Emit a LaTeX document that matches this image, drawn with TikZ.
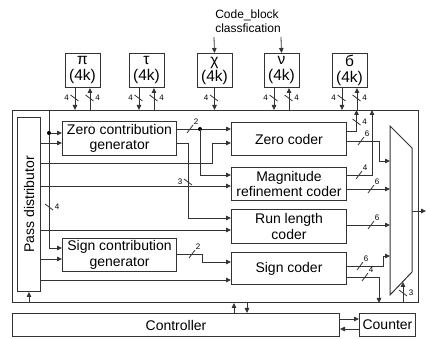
\documentclass[tikz,border=0pt]{standalone}
\usepackage{fontspec}
\setmainfont{Liberation Sans}
\usetikzlibrary{arrows.meta,calc}
\tikzset{
  wire/.style={draw=black!80, line width=0.8pt},
  arr/.style={wire, -{Triangle[length=5pt,width=4.5pt]}},
  box/.style={draw=black!80, line width=1pt, align=center, inner sep=0pt, anchor=north west,
    font=\fontsize{14}{15.5}\selectfont},
  mem/.style={box, minimum width=35pt, minimum height=34pt, font=\fontsize{15.5}{16}\selectfont},
  lbl/.style={font=\fontsize{8}{8}\selectfont, inner sep=0pt},
  tickline/.style={draw=black!80, line width=0.8pt},
  jdot/.style={circle, fill=black, inner sep=0pt, minimum size=4pt},
}
\newcommand\hmark[3]{\draw[tickline] (#1-3,#2+4) -- (#1+3,#2-4); \node[lbl] (h#1x#2) at (#1+6,#2-7) {#3};}
\newcommand\vmark[4]{\draw[tickline] (#1-4,#2-3) -- (#1+4,#2+3); \node[lbl] (v#1x#2) at (#1+#4,#2) {#3};}
\begin{document}
\begin{tikzpicture}[x=1pt,y=-1pt]
\useasboundingbox (0,0) rectangle (426,339);

% main frame and blocks
\node[box, minimum width=406pt, minimum height=192pt] (core) at (12,110) {};
\node[box, minimum width=23pt, minimum height=174pt] (pd) at (17,117) {};
\node[rotate=90, font=\fontsize{14}{15}\selectfont, inner sep=0pt] (pdt) at (pd.center) {Pass distributor};
\node[box, minimum width=114pt, minimum height=34pt] (zcg) at (62,121) {Zero contribution\\generator};
\node[box, minimum width=114pt, minimum height=33pt] (scg) at (62,238) {Sign contribution\\generator};
\node[box, minimum width=115pt, minimum height=33pt] (zc) at (231,122) {Zero coder};
\node[box, minimum width=115pt, minimum height=33pt] (mrc) at (231,167) {Magnitude\\refinement coder};
\node[box, minimum width=115pt, minimum height=34pt] (rlc) at (231,209) {Run length\\coder};
\node[box, minimum width=115pt, minimum height=32pt] (sc) at (231,252) {Sign coder};
\node[box, minimum width=327pt, minimum height=23pt] (ctrl) at (12,313) {Controller};
\node[box, minimum width=56pt, minimum height=23pt] (cnt) at (359,313) {Counter};

% memories
\node[mem] (mpi) at (64.5,53) {π\\(4k)};
\node[mem] (mtau) at (128.5,53) {τ\\(4k)};
\node[mem] (mchi) at (196.5,53) {χ\\(4k)};
\node[mem] (mnu) at (263.5,53) {ν\\(4k)};
\node[mem] (msig) at (331.5,53) {б\\(4k)};

\node[font=\fontsize{12}{14}\selectfont, align=left, inner sep=0pt] (cb) at (248,21) {Code\_block\\classfication};
\coordinate (cbl) at (214,37);
\coordinate (cbr) at (281,37);
\draw[arr] (cbl) -- (mchi.north);
\draw[arr] (cbr) -- (mnu.north);

% memory arrows
\foreach \m in {mpi,mtau,mnu,msig}{
  \draw[arr] ([xshift=-7.5pt]\m.south) -- ([xshift=-7.5pt]\m.south |- core.north);
  \draw[arr] ([xshift=7.5pt]\m.south |- core.north) -- ([xshift=7.5pt]\m.south);
}
\draw[arr] (mchi.south) -- (mchi.south |- core.north);
\vmark{74.5}{98}{4}{-8}
\vmark{89.5}{98}{4}{8}
\vmark{138.5}{98}{4}{-8}
\vmark{153.5}{98}{4}{8}
\vmark{214}{98}{4}{-8}
\vmark{273.5}{98}{4}{-8}
\vmark{288.5}{98}{4}{8}
\vmark{341.5}{98}{4}{-8}
\vmark{356.5}{98}{4}{8}

% mux
\coordinate (muxtl) at (390,126);
\coordinate (muxtr) at (412,148);
\coordinate (muxbr) at (412,272);
\coordinate (muxbl) at (390,295);
\draw[draw=black!80, line width=1pt] (muxtl) -- (muxtr) -- (muxbr) -- (muxbl) -- cycle;

% left bus
\coordinate (j1) at (49,133);
\draw[arr] (core.north -| 49,0) |- (scg.west |- 0,248);
\draw[arr] (j1) -- (zcg.west |- 0,133);
\node[jdot] (d1) at (j1) {};
\vmark{49}{207}{4}{8}

% pass distributor outputs
\draw[arr] (pd.east |- 0,143) -- (zcg.west |- 0,143);
\draw[arr] (pd.east |- 0,163) -| (212,143) -- (zc.west |- 0,143);
\draw[arr] (pd.east |- 0,186) -- (mrc.west |- 0,186);
\draw[arr] (pd.east |- 0,230) -- (rlc.west |- 0,230);
\draw[arr] (pd.east |- 0,259) -- (scg.west |- 0,259);
\draw[arr] (pd.east |- 0,280) -- (sc.west |- 0,280);
\draw[arr] (core.south -| pd.south) -- (pd.south);

% contribution generator outputs
\draw[arr] (zcg.east |- 0,129) -- (zc.west |- 0,129);
\node[jdot] (d2) at (200,129) {};
\draw[arr] (d2.center) |- (mrc.west |- 0,175);
\draw[arr] (zcg.east |- 0,143) -| (188,218) -- (rlc.west |- 0,218);
\draw[arr] (scg.east |- 0,254) -| (202,262) -- (sc.west |- 0,262);
\hmark{190}{129}{2}
\vmark{188}{182}{3}{-8}
\hmark{192}{254}{2}

% coder outputs
\draw[arr] (zc.east |- 0,131) -| (core.north -| 356.5,0);
\draw[arr] (zc.east |- 0,141) -| (379,161) -- (muxtl |- 0,161);
\draw[arr] (mrc.east |- 0,175) -| (core.north -| 372,0);
\draw[arr] (mrc.east |- 0,189) -- (muxtl |- 0,189);
\draw[arr] (rlc.east |- 0,225) -- (muxtl |- 0,225);
\draw[arr] (sc.east |- 0,266) -| (383,256) -- (muxtl |- 0,256);
\draw[arr] (sc.east |- 0,277) -| (core.south -| 379,0);
\vmark{356.5}{122}{4}{8}
\hmark{361}{141}{6}
\hmark{359}{175}{4}
\hmark{371}{189}{6}
\hmark{371}{225}{6}
\hmark{360}{266}{6}
\hmark{365}{277}{4}

% mux output and select
\coordinate (mout) at (426,211);
\draw[arr] (muxtr |- 0,211) -- (mout);
\coordinate (msel) at (403,282);
\draw[arr] (core.south -| 403,0) -- (msel);
\vmark{403}{293}{3}{8}

% controller links
\draw[arr] (ctrl.north -| 234,0) -- (core.south -| 234,0);
\draw[arr] (core.south -| 247,0) -- (ctrl.north -| 247,0);
\draw[arr] (ctrl.east |- 0,319) -- (cnt.west |- 0,319);
\draw[arr] (cnt.west |- 0,329) -- (ctrl.east |- 0,329);
\end{tikzpicture}
\end{document}
